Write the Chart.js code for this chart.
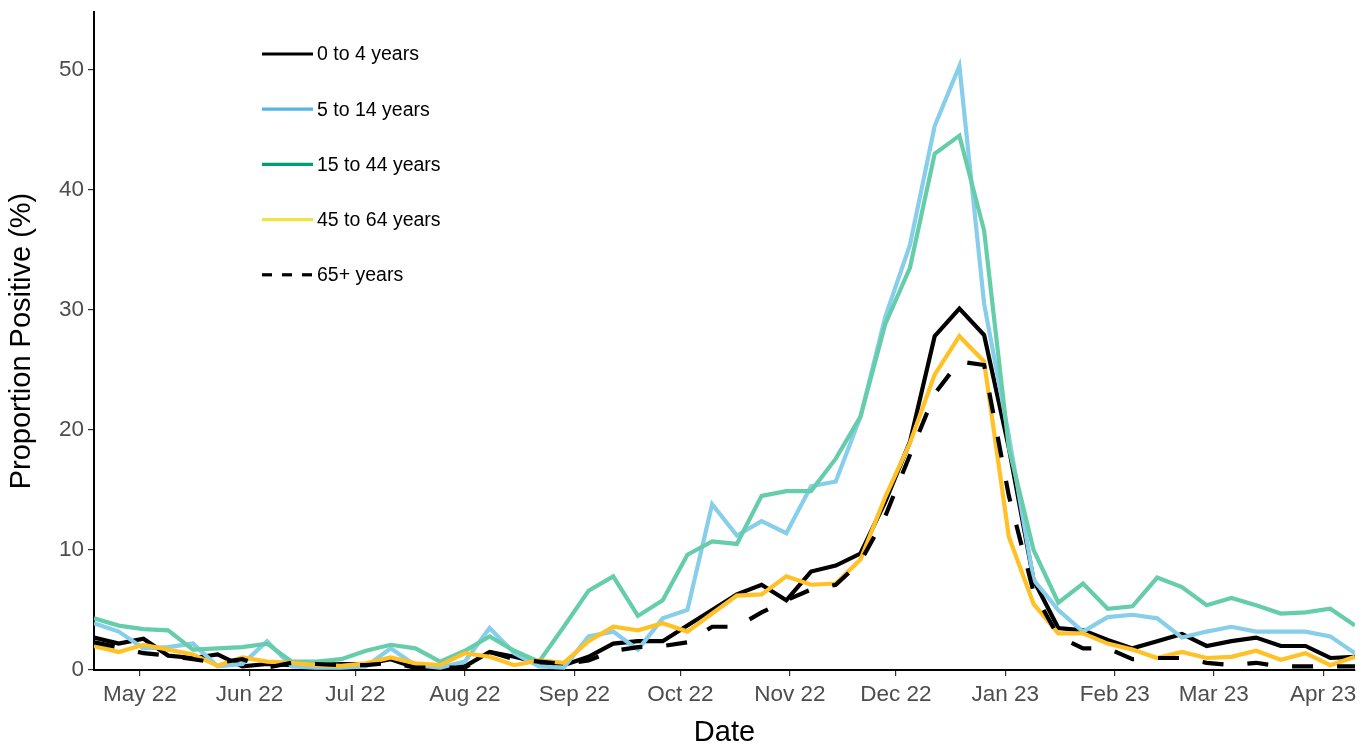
<!DOCTYPE html>
<html>
<head>
<meta charset="utf-8">
<title>Proportion positive by age group</title>
<script src="https://cdn.jsdelivr.net/npm/chart.js@4.4.1/dist/chart.umd.min.js"></script>
<style>
  html, body { margin: 0; padding: 0; background: #fff; }
  #wrap { width: 1371px; height: 747px; }
</style>
</head>
<body>
<div id="wrap"><canvas id="chart" width="1371" height="747"></canvas></div>
<script>
// weekly series, first week starting 2022-04-18
const firstWeek = '2022-04-18';
const weekCount = 52;

const ageGroups = ['0 to 4 years', '5 to 14 years', '15 to 44 years', '45 to 64 years', '65+ years'];

const age0to4 = [2.7, 2.2, 2.6, 1.2, 1.0, 1.3, 0.3, 0.5, 0.4, 0.4,
  0.5, 0.5, 0.9, 0.2, 0.2, 0.3, 1.5, 1.1, 0.6, 0.4,
  1.1, 2.2, 2.4, 2.4, 3.7, 5.0, 6.3, 7.1, 5.8, 8.2,
  8.7, 9.7, 14.0, 19.0, 27.8, 30.1, 27.9, 18.5, 7.5, 3.5,
  3.3, 2.5, 1.8, 2.4, 3.0, 2.0, 2.4, 2.7, 2.0, 2.0,
  1.0, 1.1];
const age5to14 = [3.9, 3.2, 1.8, 1.9, 2.2, 0.3, 0.5, 2.4, 0.3, 0.2,
  0.2, 0.3, 1.8, 0.4, 0.2, 0.7, 3.5, 1.4, 0.3, 0.2,
  2.8, 3.2, 1.7, 4.3, 5.0, 13.8, 11.2, 12.4, 11.4, 15.3,
  15.7, 21.1, 29.4, 35.4, 45.3, 50.3, 30.5, 19.5, 7.5, 5.0,
  3.2, 4.4, 4.6, 4.3, 2.7, 3.2, 3.6, 3.2, 3.2, 3.2,
  2.8, 1.4];
const age15to44 = [4.3, 3.7, 3.4, 3.3, 1.7, 1.8, 1.9, 2.2, 0.7, 0.7,
  0.9, 1.6, 2.1, 1.8, 0.7, 1.6, 2.8, 1.6, 0.7, 3.6,
  6.6, 7.8, 4.5, 5.8, 9.6, 10.7, 10.5, 14.5, 14.9, 14.9,
  17.6, 21.1, 28.8, 33.5, 43.0, 44.5, 36.6, 18.5, 10.0, 5.6,
  7.2, 5.1, 5.3, 7.7, 6.9, 5.4, 6.0, 5.4, 4.7, 4.8,
  5.1, 3.7];
const age45to64 = [2.0, 1.5, 2.1, 1.7, 1.3, 0.35, 1.05, 0.7, 0.6, 0.4,
  0.35, 0.55, 1.05, 0.55, 0.4, 1.4, 1.1, 0.4, 0.8, 0.6,
  2.4, 3.6, 3.3, 3.9, 3.2, 4.7, 6.2, 6.3, 7.8, 7.1,
  7.2, 9.2, 14.4, 18.9, 24.6, 27.8, 25.7, 11.1, 5.5, 3.05,
  3.05, 2.2, 1.7, 1.0, 1.5, 1.0, 1.1, 1.6, 0.85, 1.4,
  0.4, 1.1];
const age65plus = [2.3, 1.9, 1.4, 1.2, 0.9, 0.6, 0.9, 0.2, 0.6, 0.5,
  0.4, 0.4, 0.6, 0.2, 0.2, 0.2, 1.5, 0.9, 0.7, 0.5,
  0.8, 1.6, 1.9, 2.0, 2.3, 3.6, 3.6, 4.8, 5.8, 6.7,
  7.1, 9.0, 12.8, 17.9, 23.0, 25.7, 25.4, 14.5, 6.5, 2.8,
  1.8, 1.8, 0.9, 1.0, 1.0, 0.6, 0.4, 0.6, 0.3, 0.3,
  0.3, 0.3];

// month ticks on the date axis
const tickDates = ['2022-05-01', '2022-06-01', '2022-07-01', '2022-08-01', '2022-09-01', '2022-10-01',
  '2022-11-01', '2022-12-01', '2023-01-01', '2023-02-01', '2023-03-01', '2023-04-01'];
const tickLabels = ['May 22', 'Jun 22', 'Jul 22', 'Aug 22', 'Sep 22', 'Oct 22',
  'Nov 22', 'Dec 22', 'Jan 23', 'Feb 23', 'Mar 23', 'Apr 23'];
const yTicks = [0, 10, 20, 30, 40, 50];

// line colours, and the (different) colours used in the key
const lineColours = ['#000000', '#87CEEB', '#66CDAA', '#FFC125', '#000000'];
const legendColours = ['#000000', '#56B4E9', '#009E73', '#F0E442', '#000000'];

const DAY = 86400000;
const t0 = Date.parse(firstWeek + 'T00:00:00Z');
const dayOf = s => (Date.parse(s + 'T00:00:00Z') - t0) / DAY;
const weekDays = [];
for (let i = 0; i < weekCount; i++) weekDays.push(i * 7);
const tickDays = tickDates.map(dayOf);

const seriesList = [age0to4, age5to14, age15to44, age45to64, age65plus];

const datasets = seriesList.map((vals, i) => ({
  label: ageGroups[i],
  data: vals.map((v, j) => ({ x: weekDays[j], y: v })),
  borderColor: lineColours[i],
  backgroundColor: lineColours[i],
  borderWidth: 4.2,
  borderDash: i === 4 ? [21, 24] : [],
  pointRadius: 0,
  tension: 0,
  fill: false,
  order: 5 - i
}));

const FONT = '"Liberation Sans", Arial, sans-serif';

// key drawn inside the plot, top left
const keyPlugin = {
  id: 'ageKey',
  afterDatasetsDraw(chart) {
    const { ctx, chartArea } = chart;
    const x0 = chartArea.left + 168;
    const y0 = chartArea.top + 42;
    ctx.save();
    ctx.font = '19.5px ' + FONT;
    ctx.textBaseline = 'middle';
    ctx.fillStyle = '#000';
    ageGroups.forEach((name, i) => {
      const y = y0 + i * 55.2;
      ctx.beginPath();
      ctx.strokeStyle = legendColours[i];
      ctx.lineWidth = 3.2;
      ctx.setLineDash(i === 4 ? [10, 10] : []);
      ctx.moveTo(x0, y);
      ctx.lineTo(x0 + 51, y);
      ctx.stroke();
      ctx.setLineDash([]);
      ctx.fillText(name, x0 + 55, y + 1);
    });
    ctx.restore();
  }
};

new Chart(document.getElementById('chart'), {
  type: 'line',
  data: { datasets },
  plugins: [keyPlugin],
  options: {
    responsive: false,
    animation: false,
    devicePixelRatio: 1,
    layout: { padding: { top: 12, right: 16, left: 0, bottom: 0 } },
    plugins: { legend: { display: false }, tooltip: { enabled: false } },
    scales: {
      x: {
        type: 'linear',
        min: 0,
        max: weekDays[weekCount - 1],
        afterBuildTicks: s => { s.ticks = tickDays.map(v => ({ value: v })); },
        afterFit: s => { s.height = 77; },
        ticks: {
          autoSkip: false,
          maxRotation: 0,
          padding: 5,
          color: '#4D4D4D',
          font: { family: FONT, size: 22.5 },
          callback: (v, idx) => tickLabels[idx]
        },
        grid: { drawOnChartArea: false, drawTicks: true, tickLength: 6, color: '#333', lineWidth: 1.2 },
        border: { display: true, color: '#000', width: 2 },
        title: {
          display: true,
          text: 'Date',
          color: '#000',
          font: { family: FONT, size: 29, lineHeight: 1 },
          padding: { top: 0, bottom: 0 }
        }
      },
      y: {
        min: 0,
        max: 54.8,
        afterBuildTicks: s => { s.ticks = yTicks.map(v => ({ value: v })); },
        afterFit: s => { s.width = 94; },
        ticks: {
          padding: 4,
          color: '#4D4D4D',
          font: { family: FONT, size: 22.5, lineHeight: 0.7 }
        },
        grid: { drawOnChartArea: false, drawTicks: true, tickLength: 6, color: '#333', lineWidth: 1.2 },
        border: { display: true, color: '#000', width: 2 },
        title: {
          display: true,
          text: 'Proportion Positive (%)',
          color: '#000',
          font: { family: FONT, size: 29, lineHeight: 1 },
          padding: { top: 7.5, bottom: 0 }
        }
      }
    }
  }
});
</script>
</body>
</html>
